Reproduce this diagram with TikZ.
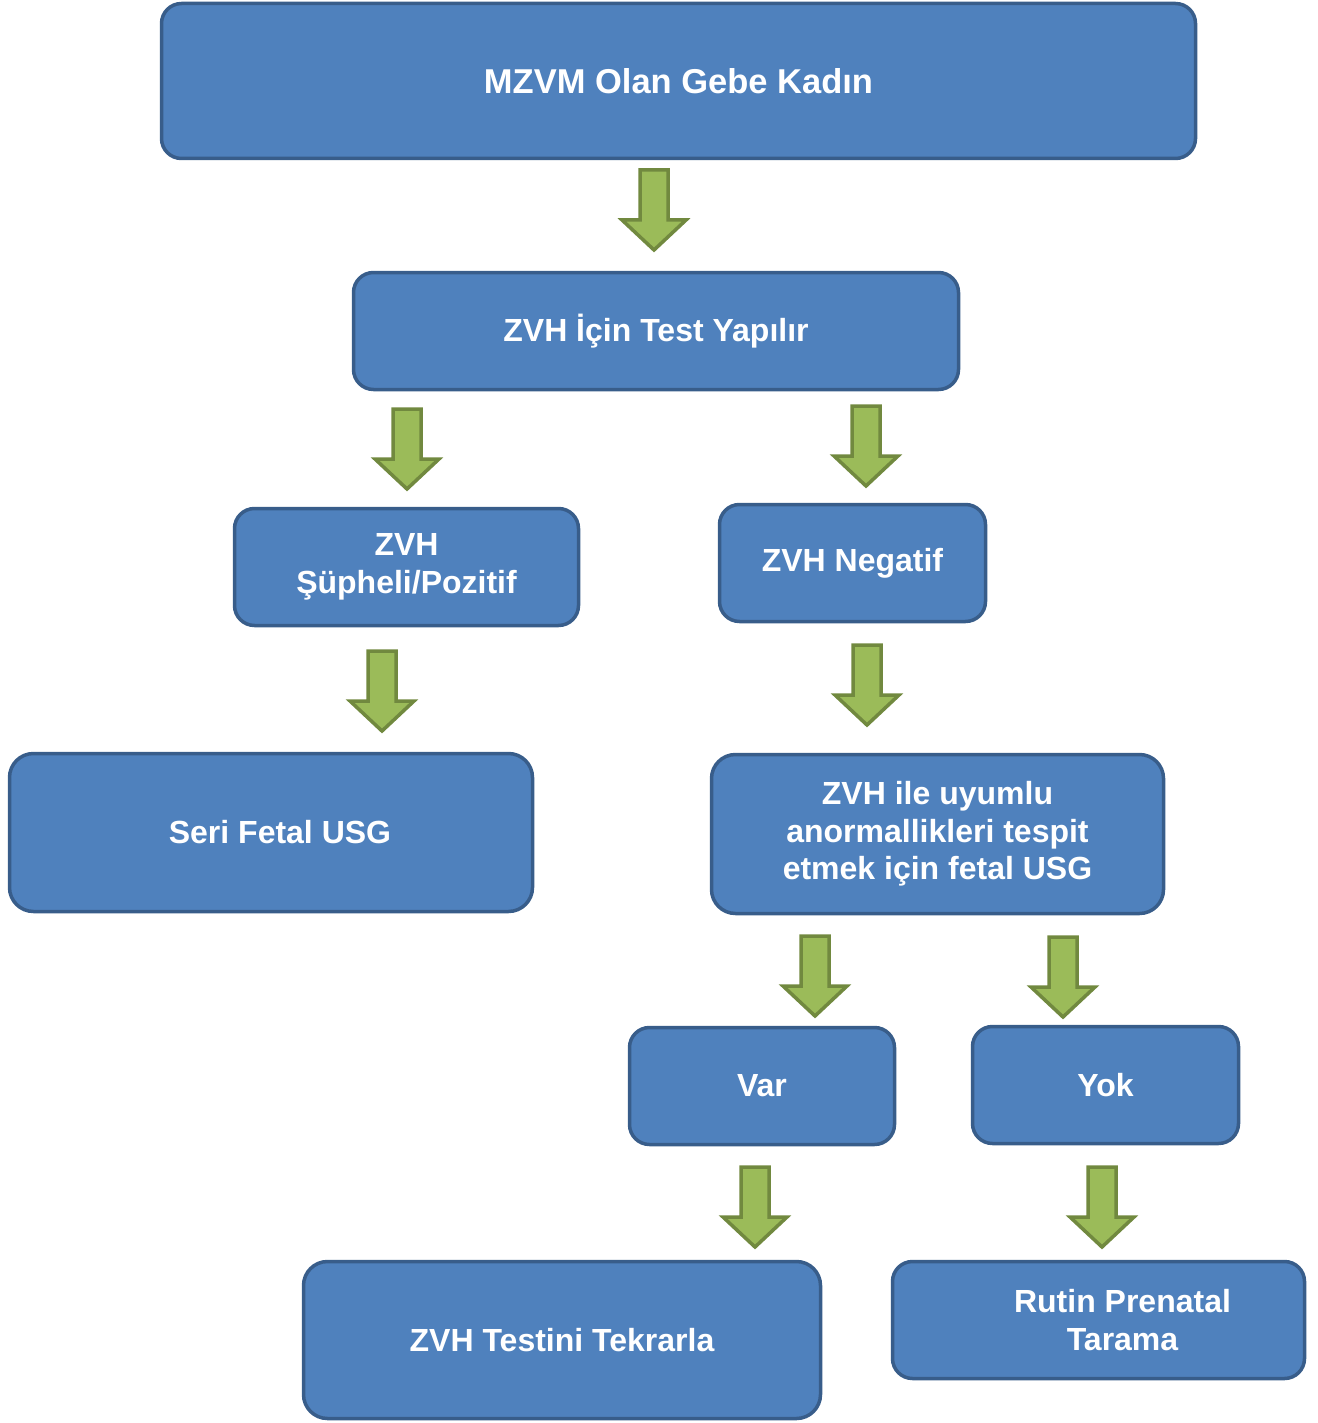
\documentclass[tikz,border=0pt]{standalone}
\usepackage{fontspec}
\setmainfont{Liberation Sans}
\definecolor{boxfill}{HTML}{4F81BD}
\definecolor{boxline}{HTML}{385D8A}
\definecolor{arrowfill}{HTML}{9BBB59}
\definecolor{arrowline}{HTML}{71893F}
\tikzset{
    box/.style={draw=boxline, fill=boxfill, line width=3.5pt, rounded corners=20pt,
        text=white, font=\fontsize{32}{37.5}\selectfont\bfseries, align=center, inner sep=0pt},
    down arrow/.pic={
        \draw[draw=arrowline, fill=arrowfill, line width=3.5pt]
            (-14,0) -- (14,0) -- (14,50) -- (32,50) -- (0,80) -- (-32,50) -- (-14,50) -- cycle;
    },
}

\begin{document}
\begin{tikzpicture}[x=1pt,y=-1pt]
\useasboundingbox (0,0) rectangle (1317,1423);

\node[box, minimum width=1034, minimum height=155, font=\fontsize{34.5}{40}\selectfont\bfseries] (mother) at (678.5,81) {MZVM Olan Gebe Kadın};
\node[box, minimum width=605, minimum height=117] (test) at (656,331) {ZVH İçin Test Yapılır};
\node[box, minimum width=344, minimum height=117] (positive) at (406.5,567) {ZVH\\Şüpheli/Pozitif};
\node[box, minimum width=266, minimum height=117] (negative) at (852.5,563) {ZVH Negatif};
\node[box, minimum width=523, minimum height=158, rounded corners=24pt] (serial) at (271,832.5) {\hspace*{18pt}Seri Fetal USG};
\node[box, minimum width=452, minimum height=159, rounded corners=24pt] (scan) at (937.5,834) {ZVH ile uyumlu\\anormallikleri tespit\\etmek için fetal USG};
\node[box, minimum width=265, minimum height=117] (yes) at (762,1086) {Var};
\node[box, minimum width=266, minimum height=117] (no) at (1105.5,1085) {Yok};
\node[box, minimum width=517, minimum height=157, rounded corners=24pt] (repeat) at (562,1340) {ZVH Testini Tekrarla};
\node[box, minimum width=412, minimum height=117] (routine) at (1098.5,1320) {\hspace*{48pt}Rutin Prenatal\\\hspace*{48pt}Tarama};

% block arrows
\pic at (654,170) {down arrow};
\pic at (407,409) {down arrow};
\pic at (866,406) {down arrow};
\pic at (382,651) {down arrow};
\pic at (867,645) {down arrow};
\pic at (815,936) {down arrow};
\pic at (1063,937) {down arrow};
\pic at (755,1167) {down arrow};
\pic at (1102,1167) {down arrow};
\end{tikzpicture}
\end{document}
